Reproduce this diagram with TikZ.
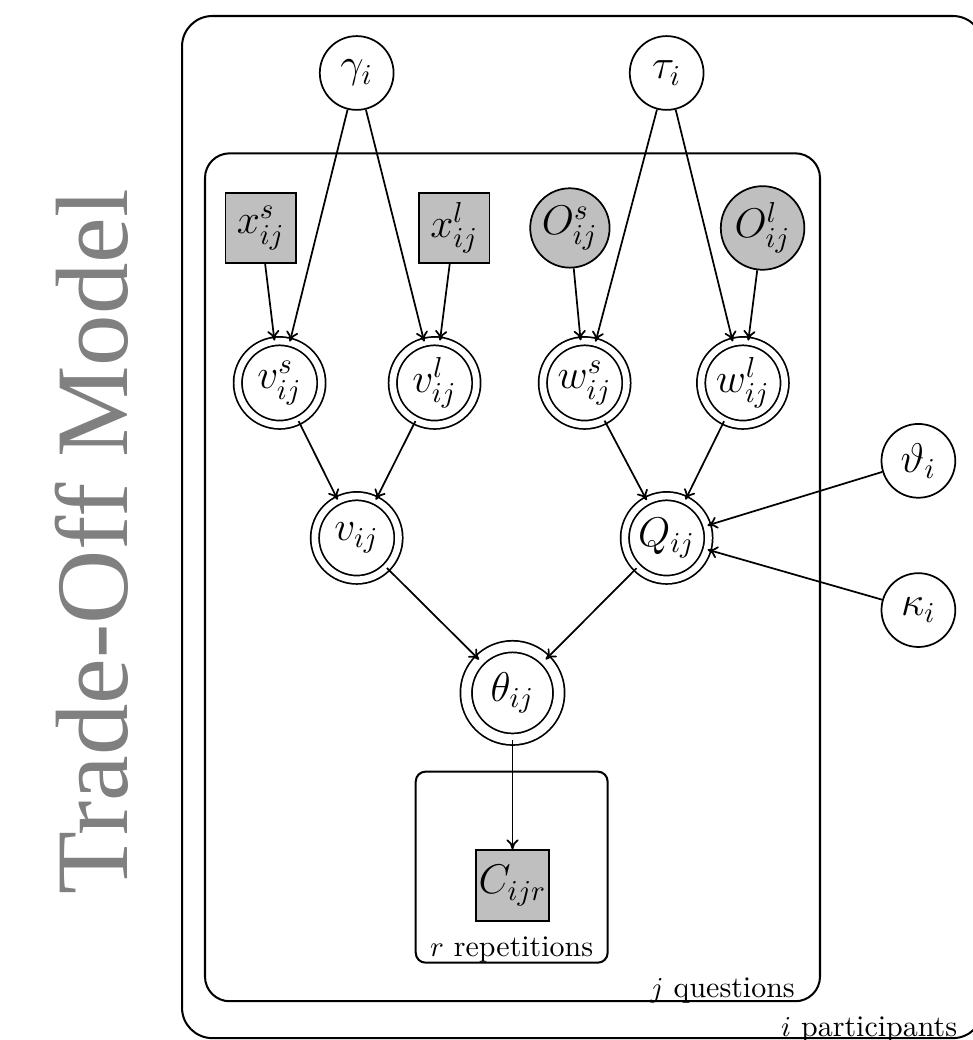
\documentclass[tikz,border=0pt]{standalone}
\usepackage{fontspec}
\usetikzlibrary{arrows.meta}
\newfontfamily\titlefont{Liberation Serif}
\tikzset{
  latent/.style={circle,draw,minimum size=0.9cm,inner sep=1pt,font=\Large},
  obs/.style={circle,draw,fill=gray!50,minimum size=0.9cm,inner sep=1pt,font=\Large},
  obsbox/.style={rectangle,draw,fill=gray!50,minimum size=0.86cm,inner sep=1pt,font=\Large},
  det/.style={circle,draw,double,double distance=2.3pt,minimum size=1.02cm,inner sep=1pt,font=\Large},
  plate/.style={draw,line width=0.7pt},
  platelbl/.style={font=\fontsize{10.4}{12}\selectfont},
  edge/.style={-{To[length=3.5pt,width=4.2pt]}}
}
\begin{document}
\begin{tikzpicture}[line width=0.6pt]
\useasboundingbox (0,0) rectangle (11.854,-12.683);

\draw[plate,rounded corners=0.37cm] (2.22,-0.195) rectangle (11.99,-12.66);
\draw[plate,rounded corners=0.3cm] (2.50,-1.87) rectangle (10.0,-12.21);
\draw[plate,rounded corners=0.12cm] (5.07,-9.41) rectangle (7.41,-11.74);

\node[platelbl,anchor=base east] at (11.80,-12.64) (lblI) {$i$ participants};
\node[platelbl,anchor=base east] at (9.82,-12.16) (lblJ) {$j$ questions};
\node[platelbl,anchor=base] at (6.24,-11.67) (lblR) {$r$ repetitions};

\node[rotate=90,anchor=base,text=gray,font=\titlefont\fontsize{35.7}{40}\selectfont] at (1.56,-6.61) (title) {Trade-Off Model};

\node[latent] at (4.35,-0.89) (gamma) {$\gamma_i$};
\node[latent] at (8.13,-0.89) (tau) {$\tau_i$};

\node[obsbox] at (3.18,-2.78) (xs) {$x^s_{ij}$};
\node[obsbox] at (5.54,-2.78) (xl) {$x^l_{ij}$};
\node[obs] at (6.95,-2.78) (Os) {$O^s_{ij}$};
\node[obs] at (9.30,-2.78) (Ol) {$O^l_{ij}$};

\node[det] at (3.41,-4.67) (vs) {$v^s_{ij}$};
\node[det] at (5.30,-4.67) (vl) {$v^l_{ij}$};
\node[det] at (7.13,-4.67) (ws) {$w^s_{ij}$};
\node[det] at (9.06,-4.67) (wl) {$w^l_{ij}$};

\node[det] at (4.35,-6.56) (v) {$v_{ij}$};
\node[det] at (8.13,-6.56) (Q) {$Q_{ij}$};

\node[latent] at (11.20,-5.62) (vartheta) {$\vartheta_i$};
\node[latent] at (11.20,-7.44) (kappa) {$\kappa_i$};

\node[det,minimum size=1.13cm,double distance=3.4pt] at (6.25,-8.45) (theta) {$\theta_{ij}$};
\node[obsbox] at (6.25,-10.80) (C) {$C_{ijr}$};

\draw[edge] (gamma) -- (vs);
\draw[edge] (gamma) -- (vl);
\draw[edge] (tau) -- (ws);
\draw[edge] (tau) -- (wl);
\draw[edge] (xs) -- (vs);
\draw[edge] (xl) -- (vl);
\draw[edge] (Os) -- (ws);
\draw[edge] (Ol) -- (wl);
\draw[edge] (vs) -- (v);
\draw[edge] (vl) -- (v);
\draw[edge] (ws) -- (Q);
\draw[edge] (wl) -- (Q);
\draw[edge] (vartheta) -- (Q);
\draw[edge] (kappa) -- (Q);
\draw[edge] (v) -- (theta);
\draw[edge] (Q) -- (theta);
\draw[edge] (theta) -- (C);
\end{tikzpicture}
\end{document}
